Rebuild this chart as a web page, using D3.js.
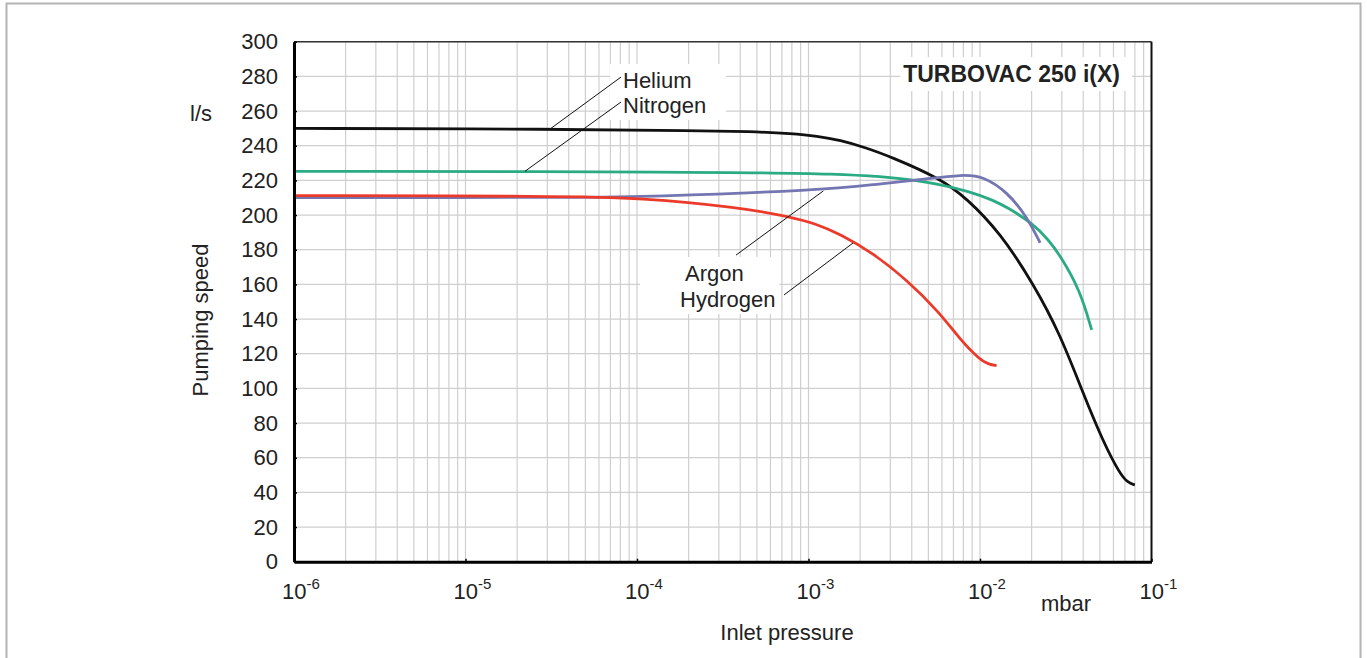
<!DOCTYPE html>
<html lang="en">
<head>
    <meta charset="UTF-8">
    <title>TURBOVAC 250 i(X) pumping speed</title>
    <script src="https://cdn.jsdelivr.net/npm/d3@7"></script>
    <style>
        body { margin: 0; background: #fff; }
        text { font-family: "Liberation Sans", Arial, sans-serif; fill: #222; }
    </style>
</head>
<body>
<div id="chart"></div>
<script>
// [inlet pressure in mbar, pumping speed in l/s]
const helium = [
    [1e-6, 250], [3.5e-5, 249.6], [2.3e-4, 248.6], [4.5e-4, 248.2], [8.1e-4, 247],
    [1.12e-3, 245.6], [1.53e-3, 243.2], [2.14e-3, 239], [2.99e-3, 233.8], [5.85e-3, 221.2],
    [8.4e-3, 209.5], [1.31e-2, 189.8], [2.04e-2, 160.6], [2.92e-2, 131.7], [3.99e-2, 97.2],
    [5.21e-2, 69.5], [6.55e-2, 50.5], [7.3e-2, 45.5], [8.0e-2, 44.3]
];
const nitrogen = [
    [1e-6, 225.2], [2.3e-4, 224.9], [1.53e-3, 224], [4.66e-3, 220.4], [9.1e-3, 213],
    [1.19e-2, 208.5], [1.44e-2, 204.5], [2.04e-2, 195], [2.51e-2, 185.6], [2.92e-2, 177],
    [3.83e-2, 156.8], [4.48e-2, 133.7]
];
const argon = [
    [1e-6, 210], [6.1e-5, 210.2], [1.04e-4, 210.4], [1.22e-3, 214.4], [2.38e-3, 217.5],
    [4.66e-3, 220.6], [7.96e-3, 223.4], [1.04e-2, 222.4], [1.44e-2, 213.4], [1.88e-2, 199],
    [2.24e-2, 184]
];
const hydrogen = [
    [1e-6, 211.2], [3.56e-5, 210.9], [1.04e-4, 210], [3.98e-4, 204.4], [7.8e-4, 199],
    [1.1e-3, 195], [1.53e-3, 189], [2.38e-3, 178], [3.75e-3, 162.5], [5.85e-3, 143.5],
    [7.6e-3, 128.5], [1.0e-2, 116.4], [1.13e-2, 113.8], [1.25e-2, 113.1]
];

const yTicks = [0, 20, 40, 60, 80, 100, 120, 140, 160, 180, 200, 220, 240, 260, 280, 300];
const xTicks = [1e-6, 1e-5, 1e-4, 1e-3, 1e-2, 1e-1];
const xTickExp = ["-6", "-5", "-4", "-3", "-2", "-1"];

const series = [
    { name: "Helium", data: helium, color: "#111" },
    { name: "Nitrogen", data: nitrogen, color: "#2aab84" },
    { name: "Argon", data: argon, color: "#7476b2" },
    { name: "Hydrogen", data: hydrogen, color: "#ec3a2a" }
];

// leader lines: from label (data coords) to the curve
const leaders = [
    [[8.07e-5, 279.6], [3.11e-5, 249.6]],
    [[8.07e-5, 265.2], [2.22e-5, 225.2]],
    [[3.78e-4, 176.9], [1.22e-3, 213.9]],
    [[7.2e-4, 153.9], [1.82e-3, 183.9]]
];

const width = 1367, height = 658;
const svg = d3.select("#chart").append("svg")
    .attr("width", width)
    .attr("height", height);

const x = d3.scaleLog().domain([1e-6, 1e-1]).range([294, 1151.5]);
const y = d3.scaleLinear().domain([0, 300]).range([561.7, 41.7]);

// outer frame
svg.append("rect")
    .attr("x", 6.5).attr("y", 3.5)
    .attr("width", 1354).attr("height", 700)
    .attr("fill", "none").attr("stroke", "#b4b4b4").attr("stroke-width", 2);

// grid
const grid = svg.append("g").attr("stroke", "#cfcfcf").attr("stroke-width", 1.2);
grid.selectAll(".vg").data(x.ticks()).enter().append("line")
    .attr("x1", d => x(d)).attr("x2", d => x(d))
    .attr("y1", y(300)).attr("y2", y(0));
grid.selectAll(".hg").data(yTicks).enter().append("line")
    .attr("x1", x(1e-6)).attr("x2", x(1e-1))
    .attr("y1", d => y(d)).attr("y2", d => y(d));

// label boxes hide the grid behind the texts
const boxes = svg.append("g");
function labelBox(lines, pad) {
    const g = boxes.append("g");
    const bg = g.append("rect").attr("fill", "#fff");
    lines.forEach(l => {
        g.append("text")
            .attr("x", l.x).attr("y", l.y)
            .attr("text-anchor", l.anchor || "start")
            .style("font-size", l.size || "22px")
            .style("font-weight", l.weight || "normal")
            .text(l.text);
    });
    const b = g.node().getBBox();
    bg.attr("x", b.x - pad[0]).attr("y", b.y - pad[1])
        .attr("width", b.width + pad[0] + pad[2])
        .attr("height", b.height + pad[1] + pad[3]);
}
labelBox([
    { text: "Helium", x: 623, y: 88 },
    { text: "Nitrogen", x: 623, y: 113 }
], [13, 4, 20, 2]);
labelBox([
    { text: "Argon", x: 685, y: 281 },
    { text: "Hydrogen", x: 680, y: 307 }
], [40, 4, 4, 2]);
labelBox([
    { text: "TURBOVAC 250 i(X)", x: 1120, y: 82, anchor: "end", weight: "bold", size: "23px" }
], [3, 4, 12, 4]);

// smooth curves through the read-off points
const line = d3.line()
    .x(d => x(d[0]))
    .y(d => y(d[1]))
    .curve(d3.curveBasis);

svg.append("g").selectAll("path")
    .data(series)
    .enter()
    .append("path")
    .attr("d", d => line(d.data))
    .attr("fill", "none")
    .attr("stroke", d => d.color)
    .attr("stroke-width", 2.8);

svg.append("g").selectAll("line")
    .data(leaders)
    .enter()
    .append("line")
    .attr("x1", d => x(d[0][0])).attr("y1", d => y(d[0][1]))
    .attr("x2", d => x(d[1][0])).attr("y2", d => y(d[1][1]))
    .attr("stroke", "#111").attr("stroke-width", 1);

// frame: thin top / right, heavy left / bottom
svg.append("line")
    .attr("x1", x(1e-6)).attr("x2", x(1e-1)).attr("y1", y(300)).attr("y2", y(300))
    .attr("stroke", "#333").attr("stroke-width", 1.5);
svg.append("line")
    .attr("x1", x(1e-1)).attr("x2", x(1e-1)).attr("y1", y(300)).attr("y2", y(0))
    .attr("stroke", "#111").attr("stroke-width", 2);

const yAxis = svg.append("g")
    .attr("transform", `translate(${x(1e-6)},0)`)
    .call(d3.axisLeft(y).tickValues(yTicks).tickSize(-3).tickSizeOuter(0).tickPadding(16));
yAxis.select(".domain").attr("stroke", "#000").attr("stroke-width", 3);
yAxis.selectAll(".tick line").attr("stroke", "#000").attr("stroke-width", 1.5);
yAxis.selectAll(".tick text")
    .attr("fill", "#222")
    .style("font-size", "22px")
    .style("font-family", "Liberation Sans, Arial, sans-serif");

const xAxis = svg.append("g")
    .attr("transform", `translate(0,${y(0)})`)
    .call(d3.axisBottom(x).tickValues(xTicks).tickSize(-3).tickSizeOuter(0).tickFormat(""));
xAxis.select(".domain").attr("stroke", "#000").attr("stroke-width", 3);
xAxis.selectAll(".tick line").attr("stroke", "#000").attr("stroke-width", 1.5);

// decade labels with superscript exponents
const xl = svg.append("g").selectAll("text")
    .data(xTicks)
    .enter()
    .append("text")
    .attr("x", d => x(d) - 12)
    .attr("y", 599)
    .style("font-size", "22px");
xl.append("tspan").text("10");
xl.append("tspan")
    .attr("dy", -10)
    .style("font-size", "15px")
    .text((d, i) => xTickExp[i]);

// axis titles
svg.append("text")
    .attr("transform", "translate(208,320) rotate(-90)")
    .attr("text-anchor", "middle")
    .style("font-size", "22px")
    .text("Pumping speed");
svg.append("text")
    .attr("x", 201).attr("y", 121)
    .attr("text-anchor", "middle")
    .style("font-size", "22px")
    .text("l/s");
svg.append("text")
    .attr("x", 787).attr("y", 640)
    .attr("text-anchor", "middle")
    .style("font-size", "22px")
    .text("Inlet pressure");
svg.append("text")
    .attr("x", 1041).attr("y", 611)
    .style("font-size", "22px")
    .text("mbar");
</script>
</body>
</html>
